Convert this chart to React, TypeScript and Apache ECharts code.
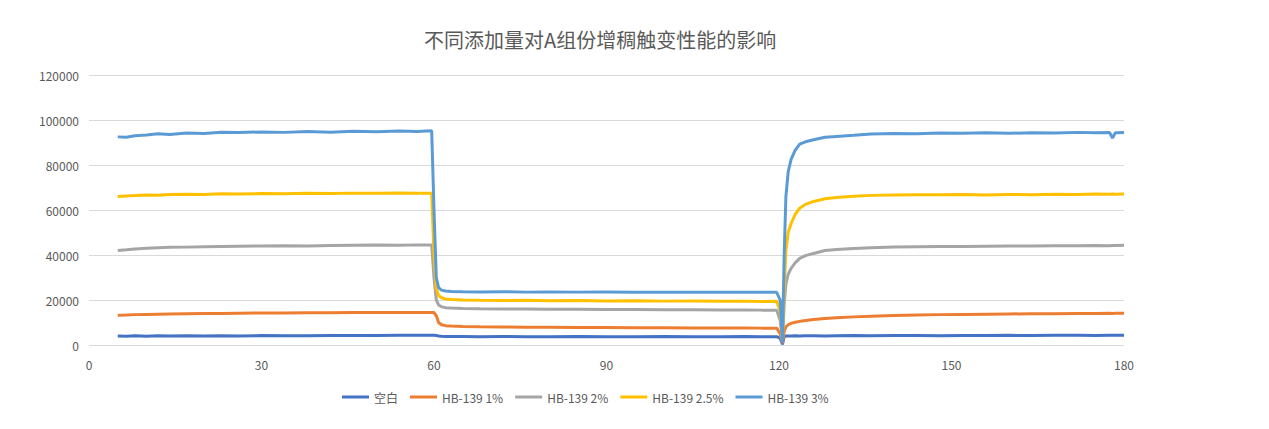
import React, { useEffect, useRef } from "react";
import * as echarts from "echarts";

// 时间 (s)
const times = [
  5, 6.5, 8, 10, 12, 14, 17, 20, 23, 26, 30, 34, 38, 42, 46, 50, 54, 57, 59.6, 60,
  60.4, 60.8, 61.3, 62, 63, 65, 68, 72, 76, 80, 85, 90, 95, 100, 105, 110, 114, 117, 119.6, 120.2,
  120.6, 120.9, 121.2, 121.6, 122.1, 122.8, 123.6, 124.6, 126, 128, 130, 133, 136, 140, 144, 148, 152, 156, 160, 164,
  168, 172, 175, 177.5, 178, 178.5, 180,
];

const seriesNames = ["空白", "HB-139 1%", "HB-139 2%", "HB-139 2.5%", "HB-139 3%"];
const colors = ["#4472C4", "#ED7D31", "#A5A5A5", "#FFC000", "#5B9BD5"];

const blank = [
  4000, 3900, 4100, 3900, 4100, 4000, 4100, 4000, 4100, 4000, 4200, 4100, 4100, 4200, 4200, 4200, 4300, 4300, 4300, 4300,
  4200, 4000, 3900, 3800, 3800, 3800, 3700, 3800, 3700, 3700, 3800, 3700, 3700, 3800, 3700, 3700, 3800, 3700, 3700, 3000,
  300, 3800, 4000, 4000, 4000, 4100, 4000, 4100, 4100, 4000, 4100, 4200, 4100, 4200, 4200, 4100, 4200, 4200, 4300, 4200,
  4300, 4300, 4200, 4300, 4300, 4300, 4300,
];

const hb1 = [
  13200, 13300, 13500, 13600, 13700, 13800, 13900, 14000, 14000, 14100, 14200, 14200, 14300, 14300, 14400, 14400, 14500, 14500, 14500, 14400,
  13000, 10000, 9000, 8600, 8400, 8200, 8100, 8000, 7900, 7900, 7800, 7800, 7700, 7700, 7600, 7600, 7600, 7500, 7500, 5000,
  800, 6000, 8000, 9000, 9600, 10100, 10500, 10900, 11300, 11800, 12100, 12500, 12800, 13100, 13300, 13500, 13600, 13700, 13800, 13900,
  13900, 14000, 14000, 14100, 14000, 14100, 14100,
];

const hb2 = [
  42000, 42300, 42700, 43000, 43200, 43400, 43500, 43700, 43800, 43900, 44000, 44100, 44000, 44200, 44300, 44400, 44300, 44500, 44400, 30000,
  20000, 17800, 17000, 16600, 16400, 16200, 16100, 16000, 16000, 15900, 15900, 15800, 15800, 15700, 15700, 15600, 15600, 15500, 15500, 11000,
  1500, 18000, 27000, 31500, 34000, 36500, 38500, 39700, 40700, 42000, 42400, 42900, 43200, 43600, 43700, 43800, 43800, 43900, 44000, 44000,
  44100, 44100, 44200, 44100, 44200, 44200, 44300,
];

const hb25 = [
  66000, 66200, 66400, 66700, 66600, 66900, 67000, 66900, 67200, 67100, 67300, 67200, 67400, 67300, 67500, 67400, 67600, 67400, 67500, 40000,
  25000, 22000, 21000, 20500, 20200, 20000, 19900, 19800, 19900, 19700, 19800, 19600, 19700, 19500, 19600, 19400, 19500, 19300, 19400, 15000,
  2000, 25000, 42000, 50000, 54000, 58000, 60800, 62500, 63800, 65000, 65600, 66100, 66500, 66700, 66800, 66800, 66900, 66700, 66900, 66800,
  67000, 66900, 67100, 67000, 67100, 67000, 67100,
];

const hb3 = [
  92500, 92300, 93000, 93300, 93900, 93600, 94200, 94000, 94600, 94400, 94700, 94500, 94900, 94600, 95000, 94800, 95100, 94900, 95200, 60000,
  30000, 25500, 24400, 24000, 23800, 23700, 23600, 23700, 23500, 23600, 23500, 23600, 23400, 23500, 23400, 23500, 23400, 23500, 23400, 20000,
  1000, 40000, 66000, 77000, 82500, 86500, 89300, 90300, 91200, 92300, 92700, 93200, 93800, 94000, 93900, 94200, 94100, 94300, 94100, 94300,
  94200, 94500, 94300, 94400, 92000, 94300, 94400,
];

const seriesData = [blank, hb1, hb2, hb25, hb3];

const font = "'Noto Sans CJK SC', 'Noto Sans', sans-serif";

const App: React.FC = () => {
  const chartRef = useRef<HTMLDivElement>(null);

  useEffect(() => {
    const chart = echarts.init(chartRef.current, null, { renderer: "svg" });
    chart.setOption({
      animation: false,
      backgroundColor: "#ffffff",
      color: colors,
      title: {
        text: "不同添加量对A组份增稠触变性能的影响",
        left: 424,
        top: 29,
        padding: 0,
        textStyle: { fontFamily: font, fontSize: 20, fontWeight: "normal", color: "#595959" },
      },
      legend: {
        left: 337,
        top: 386,
        icon: "rect",
        itemWidth: 27,
        itemHeight: 3,
        itemGap: 12,
        textStyle: { fontFamily: font, fontSize: 12, color: "#595959" },
        data: seriesNames,
      },
      grid: { left: 89, top: 75, width: 1035, height: 270 },
      xAxis: {
        type: "value",
        min: 0,
        max: 180,
        interval: 30,
        axisLine: { show: false },
        axisTick: { show: false },
        splitLine: { show: false },
        axisLabel: { color: "#595959", fontSize: 12, fontFamily: font, margin: 13 },
      },
      yAxis: {
        type: "value",
        min: 0,
        max: 120000,
        interval: 20000,
        axisLine: { show: false },
        axisTick: { show: false },
        splitLine: { lineStyle: { color: "#d9d9d9", width: 1 } },
        axisLabel: {
          color: "#595959",
          fontSize: 12,
          fontFamily: font,
          margin: 10,
          formatter: (v: number) => String(v),
        },
      },
      series: seriesNames.map((name, k) => ({
        name,
        type: "line",
        showSymbol: false,
        lineStyle: { width: 3, color: colors[k] },
        itemStyle: { color: colors[k] },
        data: times.map((t, i) => [t, seriesData[k][i]]),
      })),
    });
    return () => {
      chart.dispose();
    };
  }, []);

  return (
    <div
      ref={chartRef}
      style={{ position: "fixed", left: 0, top: 0, width: 1269, height: 429, background: "#fff" }}
    />
  );
};

export default App;
